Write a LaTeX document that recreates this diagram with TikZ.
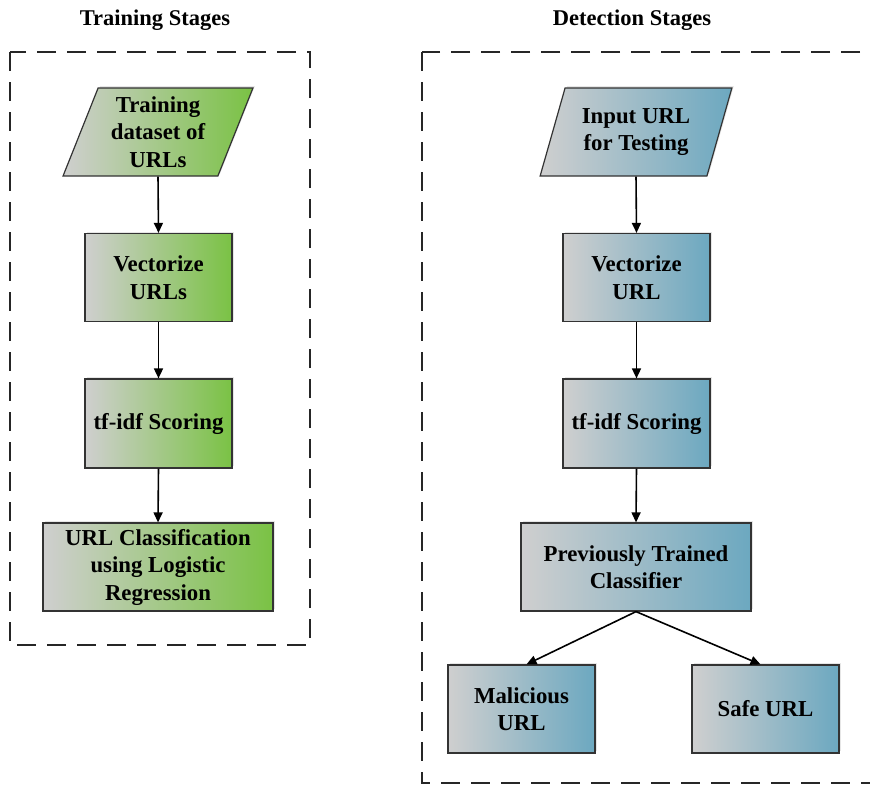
\documentclass[tikz,border=0pt]{standalone}
\usepackage{fontspec}
\setmainfont{Liberation Serif}
\usetikzlibrary{shapes.geometric,arrows.meta,shadows}
\definecolor{gstart}{HTML}{CFCFCF}
\definecolor{gend}{HTML}{7AC244}
\definecolor{bend}{HTML}{6CA8C0}
\tikzset{
  stagebox/.style={draw=black!80, line width=1.2pt, align=center, font=\fontsize{22.8}{27.5}\selectfont\bfseries, inner sep=2pt,
    drop shadow={opacity=0.2, shadow xshift=2pt, shadow yshift=2pt}},
  greenfill/.style={left color=gstart, right color=gend},
  bluefill/.style={left color=gstart, right color=bend},
  para/.style={trapezium, trapezium left angle=69, trapezium right angle=111, trapezium stretches=true},
  region/.style={dashed, dash pattern=on 19pt off 11pt, line width=2.6pt, black!85},
  flow/.style={line width=1.6pt, -{Triangle[length=10pt,width=9pt]}},
  stagetitle/.style={font=\fontsize{22.5}{26}\selectfont\bfseries}
}
\begin{document}
\begin{tikzpicture}[x=1pt,y=-1pt]
\useasboundingbox (0,0) rectangle (870,788);
% titles
\node[stagetitle] (t1) at (155,20) {Training Stages};
\node[stagetitle] (t2) at (632,20) {Detection Stages};
% dashed regions
\draw[region] (10,52) rectangle (310,645);
\draw[region] (422,52) rectangle (885,783);
% training
\node[stagebox, para, greenfill, minimum width=190pt, minimum height=88pt] (a1) at (158,132) {Training\\dataset of\\URLs};
\node[stagebox, greenfill, minimum width=147pt, minimum height=88pt] (a2) at (158.5,277.5) {Vectorize\\URLs};
\node[stagebox, greenfill, minimum width=147pt, minimum height=89pt] (a3) at (158.5,423.5) {tf-idf Scoring};
\node[stagebox, greenfill, minimum width=230pt, minimum height=88pt] (a4) at (158,567) {URL Classification\\using Logistic\\Regression};
\draw[flow] (a1.south) -- (a2.north);
\draw[flow] (a2.south) -- (a3.north);
\draw[flow] (a3.south) -- (a4.north);
% detection
\node[stagebox, para, bluefill, minimum width=192pt, minimum height=88pt] (b1) at (636,132) {Input URL\\for Testing};
\node[stagebox, bluefill, minimum width=147pt, minimum height=88pt] (b2) at (636.5,277.5) {Vectorize\\URL};
\node[stagebox, bluefill, minimum width=147pt, minimum height=89pt] (b3) at (636.5,423.5) {tf-idf Scoring};
\node[stagebox, bluefill, minimum width=230pt, minimum height=88pt] (b4) at (636,567) {Previously Trained\\Classifier};
\node[stagebox, bluefill, minimum width=147pt, minimum height=88pt] (b5) at (521.5,709) {Malicious\\URL};
\node[stagebox, bluefill, minimum width=147pt, minimum height=88pt] (b6) at (765.5,709) {Safe URL};
\draw[flow] (b1.south) -- (b2.north);
\draw[flow] (b2.south) -- (b3.north);
\draw[flow] (b3.south) -- (b4.north);
\coordinate (m5) at ([xshift=5pt]b5.north);
\coordinate (m6) at ([xshift=-5pt]b6.north);
\draw[flow] (b4.south) -- (m5);
\draw[flow] (b4.south) -- (m6);
\end{tikzpicture}
\end{document}
